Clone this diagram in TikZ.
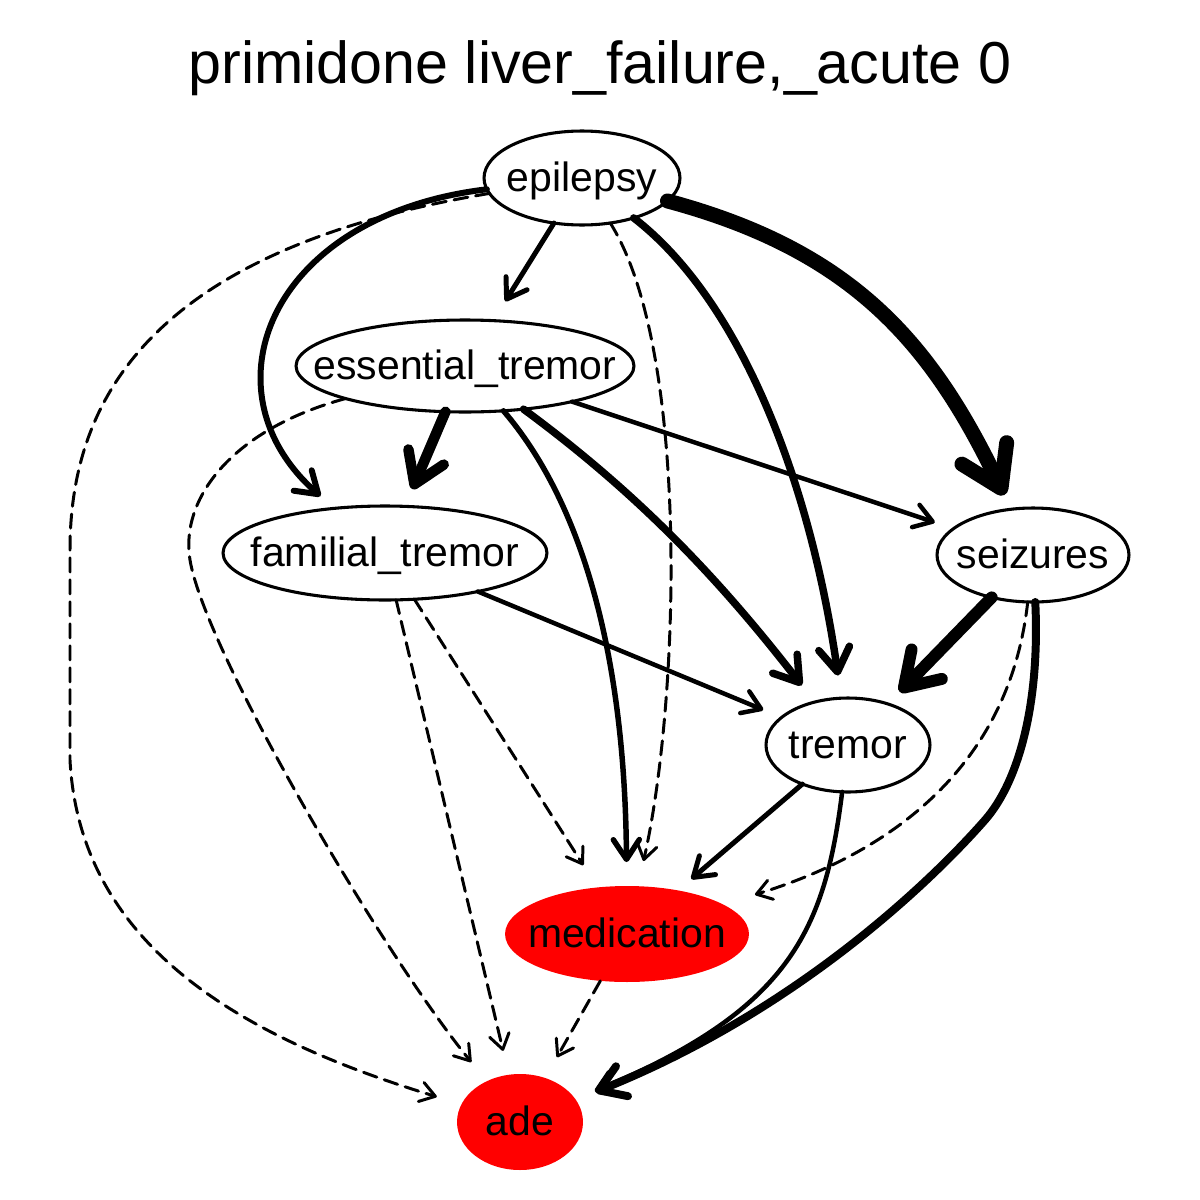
\documentclass[tikz,border=0pt]{standalone}
\usepackage{fontspec}
\setmainfont{Liberation Sans}
\usetikzlibrary{arrows.meta,shapes.geometric}
\newcommand\ntxt[1]{\makebox[0pt]{\raisebox{-7.6pt}[0pt][0pt]{#1}}}
\begin{document}
\begin{tikzpicture}[x=0.02cm,y=-0.02cm,
  nd/.style={ellipse, draw, line width=1.75pt, inner sep=0pt, outer sep=0pt, font=\fontsize{23.3}{28}\selectfont},
  rednd/.style={ellipse, fill=red, inner sep=0pt, outer sep=0pt, font=\fontsize{23.3}{28}\selectfont},
  ed/.style={line width=#1*0.567pt, line cap=round, -{Straight Barb[round,length=5pt 2,width=7pt 2.5]}},
  da/.style={ed=3, dash pattern=on 8pt off 4.5pt}]
\useasboundingbox (0,0) rectangle (1200,1200);
\fill[white] (0,0) rectangle (1200,1200);
\node[anchor=base, font=\fontsize{33.7}{40}\selectfont] (title) at (600,83) {primidone liver\_failure,\_acute 0};
\node[nd, minimum width=3.92cm, minimum height=1.88cm] (epi) at (582,178) {\ntxt{epilepsy}};
\node[nd, minimum width=6.76cm, minimum height=1.84cm] (ess) at (465,366) {\ntxt{essential\_tremor}};
\node[nd, minimum width=6.48cm, minimum height=1.88cm] (ft) at (385,553) {\ntxt{familial\_tremor}};
\node[nd, minimum width=3.84cm, minimum height=1.88cm] (sz) at (1033,555) {\ntxt{seizures}};
\node[nd, minimum width=3.28cm, minimum height=1.88cm] (tr) at (848,745) {\ntxt{tremor}};
\node[rednd, minimum width=4.88cm, minimum height=1.92cm] (med) at (627,934) {\ntxt{medication}};
\node[rednd, minimum width=2.52cm, minimum height=1.92cm] (ade) at (520,1122) {\ntxt{ade}};
% epilepsy
\draw[ed=5, shorten >=13pt] (epi) -- (ess);
\draw[ed=6, shorten >=10.5pt] (epi) .. controls (270,215) and (200,390) .. (ft);
\draw[da, shorten >=14.7pt] (epi) .. controls (150,250) and (70,400) .. (70,550) -- (70,760) .. controls (80,950) and (250,1040) .. (ade);
\draw[da, shorten >=14.7pt] (epi) .. controls (690,350) and (680,700) .. (med);
\draw[ed=7.5, shorten >=13pt] (epi) .. controls (740,300) and (810,480) .. (tr);
\draw[ed=15, shorten >=9pt] (epi) .. controls (850,250) and (930,340) .. (sz);
% essential tremor
\draw[ed=10.5, shorten >=10.7pt] (ess) -- (ft);
\draw[da, shorten >=14pt] (ess) .. controls (230,430) and (180,500) .. (190,560) .. controls (205,650) and (380,950) .. (ade);
\draw[ed=5.5, shorten >=13.6pt] (ess) .. controls (580,500) and (625,650) .. (med);
\draw[ed=7.5, shorten >=12pt] (ess) .. controls (640,495) and (720,580) .. (tr);
\draw[ed=4.5, shorten >=11.3pt] (ess) -- (sz);
% familial tremor
\draw[ed=4.5, shorten >=11.3pt] (ft) -- (tr);
\draw[da, shorten >=15pt] (ft) -- (med);
\draw[da, shorten >=14pt] (ft) -- (ade);
% seizures
\draw[ed=12, shorten >=9.6pt] (sz) -- (tr);
\draw[da, shorten >=19pt] (sz) .. controls (1010,760) and (900,850) .. (med);
\draw[ed=8, shorten >=12pt] (sz) .. controls (1040,700) and (1020,780) .. (985,820) .. controls (935,877) and (800,1010) .. (ade);
% tremor
\draw[ed=5, shorten >=10pt] (tr) -- (med);
\draw[ed=4.5, shorten >=12pt] (tr) .. controls (825,930) and (790,1010) .. (ade);
% medication
\draw[da, shorten >=13.6pt] (med) -- (ade);
\end{tikzpicture}
\end{document}
